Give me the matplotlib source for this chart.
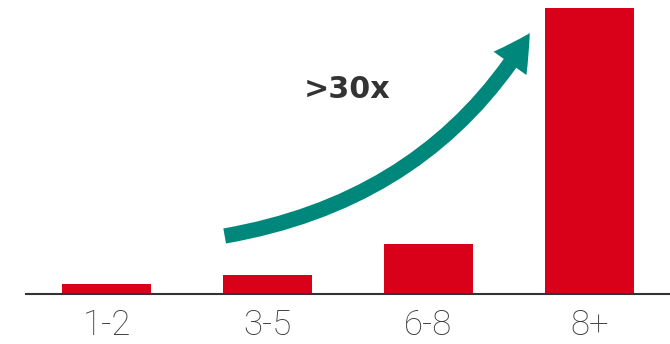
import matplotlib
matplotlib.use("Agg")
import matplotlib.pyplot as plt
from matplotlib.patches import FancyArrowPatch
from matplotlib.path import Path

# Data
categories = ["1-2", "3-5", "6-8", "8+"]
values = [1.0, 2.0, 5.4, 31.0]
growth_label = ">30x"

BAR_RED = "#d9001a"
TEAL = "#00877b"
AXIS_GRAY = "#333333"
TEXT_GRAY = "#3a3a3a"

fig = plt.figure(figsize=(6.7, 3.44), dpi=100)
ax = fig.add_axes([26 / 670, (344 - 293.5) / 344, 1 - 26 / 670, 293.5 / 344])

x = range(len(categories))
ax.bar(x, values, width=0.556, color=BAR_RED, zorder=2)

ax.set_xlim(-0.5, 3.5)
ax.set_ylim(0, 31.9)

for side in ("top", "right", "left"):
    ax.spines[side].set_visible(False)
ax.spines["bottom"].set_color(AXIS_GRAY)
ax.spines["bottom"].set_linewidth(1.5)
ax.spines["bottom"].set_zorder(3)

ax.set_yticks([])
ax.set_xticks(list(x))
ax.set_xticklabels(categories, fontsize=25, color=TEXT_GRAY,
                   fontfamily="Roboto", fontweight="light")
ax.tick_params(axis="x", length=0, pad=11)

# Curved growth arrow
arrow_path = Path([(0.734, 6.25), (2.007, 10.16), (2.629, 28.3)],
                  [Path.MOVETO, Path.CURVE3, Path.CURVE3])
arrow = FancyArrowPatch(path=arrow_path, transform=ax.transData,
                        arrowstyle="simple,head_width=29,head_length=26,tail_width=11",
                        mutation_scale=1, color=TEAL, lw=0, zorder=4)
ax.add_patch(arrow)

ax.text(1.494, 21.25, growth_label, fontsize=21.7, fontweight="bold",
        fontfamily="DejaVu Sans", color="#333333", ha="center", va="baseline")

fig.savefig("out.png", dpi=100)
